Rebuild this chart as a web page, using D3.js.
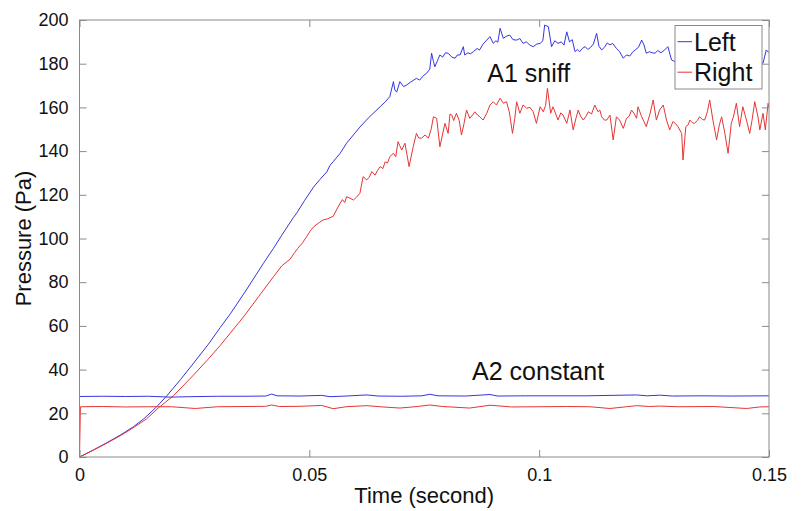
<!DOCTYPE html>
<html>
<head>
<meta charset="utf-8">
<script src="https://cdn.jsdelivr.net/npm/d3@7"></script>
<style>
  html, body { margin: 0; padding: 0; background: #fff; }
  svg { display: block; }
  text { font-family: "Liberation Sans", Arial, Helvetica, sans-serif; fill: #111; }
</style>
</head>
<body>
<svg id="chart" width="802" height="511"></svg>
<script>
// Pressure traces, [time (s), pressure (Pa)]
const leftSniff = [
  [0,0],[0.003,3.2],[0.006,6.6],[0.009,10.2],[0.0117,13.8],[0.014,17.5],[0.0168,23],[0.019,28],
  [0.022,35.5],[0.0248,42.9],[0.028,51.5],[0.0306,59.2],[0.0328,65.5],[0.036,75.5],[0.04,88.6],
  [0.0422,95.5],[0.044,101.5],[0.0465,109.5],[0.0473,111.8],[0.049,117.5],[0.0509,123.5],
  [0.0523,127],[0.0538,130.5],[0.0545,133.5],[0.0552,135.2],[0.0567,139],[0.0581,143.6],
  [0.061,151],[0.063,155.5],[0.0654,160.3],[0.0665,162.5],[0.0675,164.9],[0.0683,171.8],
  [0.0686,168],[0.069,167],[0.0697,171.8],[0.0705,169.5],[0.0712,170.3],[0.072,171.5],
  [0.0733,173.3],[0.074,172.5],[0.0748,174.5],[0.0755,175.6],[0.0762,177.5],[0.0766,184.8],
  [0.077,181],[0.0773,178.6],[0.0778,181],[0.0784,184],[0.079,183],[0.0796,185],[0.0802,184.8],
  [0.081,183],[0.0817,182.5],[0.0822,184],[0.0828,184],[0.0835,187.8],[0.0838,184],[0.0845,185],
  [0.085,184.5],[0.0857,185.5],[0.0865,187],[0.087,186.2],[0.0878,189],[0.0886,190.8],
  [0.0893,192.4],[0.09,189.3],[0.0906,190.5],[0.091,189.8],[0.0915,196.2],[0.0922,191.6],
  [0.0928,192.5],[0.0936,193.1],[0.0943,191],[0.0951,190.8],[0.0958,191.5],[0.0965,189.3],
  [0.0972,190],[0.098,188.5],[0.0987,187.8],[0.0995,189],[0.1002,189.3],[0.1008,190.5],
  [0.1012,197.7],[0.102,196.9],[0.1027,187.8],[0.1034,190.5],[0.1041,189.3],[0.1048,190],
  [0.1054,188.5],[0.106,194.6],[0.1066,190],[0.1072,191],[0.1078,185.5],[0.1083,186.5],
  [0.1088,185.5],[0.1094,187],[0.11,187.8],[0.1106,186.5],[0.1112,187.5],[0.1118,189],
  [0.1125,193.9],[0.113,188],[0.1136,186.3],[0.1142,187.5],[0.1148,189.5],[0.1154,188.6],
  [0.116,189.3],[0.1168,187],[0.1175,185.5],[0.1183,182.5],[0.119,184],[0.1197,183.5],
  [0.1204,185.5],[0.121,186.5],[0.1216,187.5],[0.1223,190.8],[0.1228,188.6],[0.1233,184.8],
  [0.124,185.5],[0.1246,185],[0.1252,184.8],[0.1258,186],[0.1265,185],[0.1273,186.3],
  [0.128,187.8],[0.1288,181.7],[0.1295,181],[0.131,183],[0.133,186],[0.135,184.5],[0.137,187],
  [0.139,185],[0.141,188],[0.143,184],[0.145,186],[0.147,182.5],[0.1483,180.5],[0.1487,180.2],
  [0.1494,186.3],[0.15,185]
];

const rightSniff = [
  [0,0],[0.003,3.1],[0.006,6.4],[0.009,9.9],[0.0117,13.4],[0.0145,17.3],[0.0172,22.5],[0.0204,28],
  [0.0225,32.5],[0.0248,37.5],[0.028,44.8],[0.0306,51],[0.0335,58.5],[0.036,65],[0.039,73.5],
  [0.0422,82.5],[0.044,87.5],[0.0458,90.5],[0.0468,93.5],[0.0475,95.5],[0.0485,98],[0.0494,100.8],
  [0.0502,103.5],[0.051,105.5],[0.0523,107.5],[0.053,108.5],[0.054,109],[0.0552,110.2],
  [0.056,113.5],[0.0567,116.1],[0.0572,117.8],[0.0577,116.5],[0.0581,119.1],[0.0588,118.5],
  [0.0596,117.6],[0.0603,119],[0.061,120.7],[0.0617,128.3],[0.0625,126.8],[0.063,128],
  [0.0636,130.6],[0.0643,129],[0.0648,131],[0.0654,132.9],[0.066,132],[0.0665,135.1],
  [0.067,134.5],[0.0675,137.4],[0.0683,139],[0.0688,137.4],[0.0693,144.3],[0.0701,140.5],
  [0.0708,143.6],[0.0717,132.9],[0.0726,142],[0.0733,148.1],[0.0738,146],[0.0744,145.9],
  [0.0752,147.4],[0.0759,145.9],[0.0765,150],[0.077,155.7],[0.0777,155],[0.0784,142],
  [0.0795,152.7],[0.0802,148.1],[0.0806,157],[0.081,156.5],[0.0814,154],[0.082,157.3],
  [0.0826,154],[0.0831,147.4],[0.0836,152],[0.0842,158.8],[0.0849,155],[0.0855,156.5],
  [0.086,158],[0.0866,156.5],[0.0871,155.7],[0.0878,154.2],[0.0886,157.3],[0.0893,161.1],
  [0.09,162.6],[0.0907,161.1],[0.0915,164.2],[0.0922,161.9],[0.0929,162.6],[0.0935,158],
  [0.0942,148.1],[0.0947,155],[0.0951,162.6],[0.0958,157.3],[0.0965,161.1],[0.0973,159.6],
  [0.098,160],[0.0987,158],[0.0994,152.7],[0.1002,160.3],[0.1009,158],[0.1014,161],
  [0.1018,168.7],[0.1025,157.3],[0.103,160.3],[0.1036,157],[0.1041,154.2],[0.1047,157.5],
  [0.1052,156.5],[0.106,152.7],[0.1067,158.8],[0.1074,149.7],[0.108,155],[0.1085,158.8],
  [0.109,156],[0.1096,154.2],[0.1102,156],[0.1107,158],[0.1114,157],[0.1121,161.1],
  [0.1128,158],[0.1132,158.8],[0.1136,155.7],[0.1142,154.2],[0.1147,154.2],[0.1154,156.5],
  [0.1161,145.1],[0.1168,155.7],[0.1175,154.2],[0.1183,150.4],[0.119,155],[0.1196,156],
  [0.1201,158.8],[0.1207,157],[0.1212,155],[0.1215,160.3],[0.1223,155.7],[0.1228,153.5],
  [0.1233,151.2],[0.1241,157],[0.1248,163.4],[0.1255,154.2],[0.1262,158.8],[0.127,161.1],
  [0.1277,154.2],[0.1284,149.7],[0.1291,153.5],[0.1297,152.5],[0.1302,151.2],[0.131,148.1],
  [0.1313,135.9],[0.1319,151.2],[0.1324,152],[0.1328,154.2],[0.1333,153],[0.1338,152.7],
  [0.1344,154],[0.1349,155.7],[0.1355,154.5],[0.136,154.2],[0.1366,158],[0.1371,163.4],
  [0.1378,154.2],[0.1386,145.1],[0.1392,152],[0.1397,155.7],[0.1404,148.1],[0.1411,139],
  [0.1418,152.7],[0.1423,156],[0.1429,161.9],[0.1436,151.2],[0.1443,160.3],[0.1451,154.2],
  [0.1458,148.1],[0.1463,154],[0.1469,162.6],[0.1476,155.7],[0.148,149.7],[0.1487,157.3],
  [0.1492,149.7],[0.1498,161.9],[0.15,160]
];

const leftConstant = [
  [0,27.7],[0.005,27.8],[0.01,27.7],[0.015,27.8],[0.0197,27.4],[0.024,27.6],[0.03,27.8],
  [0.036,27.8],[0.0405,27.9],[0.0418,28.8],[0.043,28.0],[0.048,27.9],[0.0527,28.2],[0.0545,27.6],
  [0.058,27.9],[0.0625,28.4],[0.065,27.9],[0.07,27.8],[0.0745,28.0],[0.0762,28.7],[0.078,28.0],
  [0.084,27.9],[0.0893,28.6],[0.091,27.9],[0.097,28.0],[0.103,28.0],[0.11,28.0],[0.1212,28.4],
  [0.1235,28.0],[0.1262,28.3],[0.129,27.9],[0.135,28.0],[0.142,27.9],[0.15,28.0]
];

const rightConstant = [
  [0,0],[0.0002,23],[0.005,23.1],[0.01,22.9],[0.015,23.0],[0.02,23.0],[0.0252,22.2],[0.03,23.0],
  [0.036,23.1],[0.0405,23.2],[0.0418,23.8],[0.0435,23.1],[0.048,23.2],[0.0527,23.6],[0.0552,22.1],
  [0.058,23.0],[0.0625,23.5],[0.066,22.9],[0.0697,22.4],[0.0735,23.1],[0.0762,23.8],[0.079,23.1],
  [0.0849,22.4],[0.0893,23.7],[0.094,22.9],[0.1,23.0],[0.106,23.1],[0.111,23.0],[0.1154,22.2],
  [0.119,23.0],[0.1212,23.5],[0.124,23.1],[0.1262,23.3],[0.13,23.0],[0.138,23.1],[0.1451,22.2],
  [0.148,22.9],[0.15,23.0]
];

const xTicks = [0, 0.05, 0.1, 0.15];
const xTickLabels = ["0", "0.05", "0.1", "0.15"];
const yTicks = [0, 20, 40, 60, 80, 100, 120, 140, 160, 180, 200];
const legendLabels = ["Left", "Right"];
// Text notes placed in data units (left edge of text, baseline)
const annotations = [
  { text: "A1 sniff", t: 0.0887, p: 171.8 },
  { text: "A2 constant", t: 0.0854, p: 35.3 }
];

const BLUE = "#3535e0";
const RED = "#e53535";
const AXIS = "#8a8a8a";

const margin = { left: 79.5, top: 20, right: 33, bottom: 54 };
const W = 802, H = 511;
const iw = W - margin.left - margin.right;
const ih = H - margin.top - margin.bottom;

const svg = d3.select("#chart");
const g = svg.append("g").attr("transform", `translate(${margin.left},${margin.top})`);

const x = d3.scaleLinear().domain([0, 0.15]).range([0, iw]);
const y = d3.scaleLinear().domain([0, 200]).range([ih, 0]);

svg.append("defs").append("clipPath").attr("id", "plotClip")
  .append("rect").attr("x", 0).attr("y", 0).attr("width", iw).attr("height", ih);

const line = d3.line().x(d => x(d[0])).y(d => y(d[1]));

const traces = g.append("g").attr("clip-path", "url(#plotClip)");
[[leftSniff, BLUE], [rightSniff, RED], [leftConstant, BLUE], [rightConstant, RED]].forEach(([data, col]) => {
  traces.append("path")
    .datum(data)
    .attr("d", line)
    .attr("fill", "none")
    .attr("stroke", col)
    .attr("stroke-width", 1)
    .attr("stroke-linejoin", "round");
});

// Axes with inward ticks on all four sides
const tickFmt = d => xTickLabels[xTicks.indexOf(d)];
const styleAxis = sel => {
  sel.select(".domain").remove();
  sel.selectAll(".tick line").attr("stroke", AXIS);
  sel.selectAll(".tick text").style("font-size", "18px").attr("fill", "#111");
};

g.append("g").attr("transform", `translate(0,${ih})`)
  .call(d3.axisBottom(x).tickValues(xTicks).tickFormat(tickFmt).tickSize(-7).tickPadding(11))
  .call(styleAxis);
g.append("g")
  .call(d3.axisTop(x).tickValues(xTicks).tickFormat("").tickSize(-7))
  .call(styleAxis);
g.append("g")
  .call(d3.axisLeft(y).tickValues(yTicks).tickFormat(d3.format("d")).tickSize(-7).tickPadding(11))
  .call(styleAxis);
g.append("g").attr("transform", `translate(${iw},0)`)
  .call(d3.axisRight(y).tickValues(yTicks).tickFormat("").tickSize(-7))
  .call(styleAxis);

g.append("rect")
  .attr("x", 0).attr("y", 0).attr("width", iw).attr("height", ih)
  .attr("fill", "none").attr("stroke", AXIS).attr("stroke-width", 1);

// Annotations
g.selectAll("text.note")
  .data(annotations)
  .join("text")
  .attr("class", "note")
  .attr("x", d => x(d.t))
  .attr("y", d => y(d.p))
  .attr("text-anchor", "start")
  .style("font-size", "25px")
  .text(d => d.text);

// Axis titles
svg.append("text")
  .attr("x", margin.left + iw / 2)
  .attr("y", 503)
  .attr("text-anchor", "middle")
  .style("font-size", "22px")
  .text("Time (second)");

svg.append("text")
  .attr("transform", `translate(31,${margin.top + ih / 2}) rotate(-90)`)
  .attr("text-anchor", "middle")
  .style("font-size", "22px")
  .text("Pressure (Pa)");

// Legend
const lg = svg.append("g").attr("transform", "translate(675,25.5)");
lg.append("rect")
  .attr("width", 87).attr("height", 63.5)
  .attr("fill", "#fff").attr("stroke", AXIS).attr("stroke-width", 1);
const items = lg.selectAll("g.item")
  .data(legendLabels.map((l, i) => ({ label: l, color: i === 0 ? BLUE : RED })))
  .join("g")
  .attr("class", "item")
  .attr("transform", (d, i) => `translate(0,${16.2 + i * 30.5})`);
items.append("line")
  .attr("x1", 2.5).attr("x2", 17).attr("y1", 0).attr("y2", 0)
  .attr("stroke", d => d.color).attr("stroke-width", 1);
items.append("text")
  .attr("x", 19).attr("y", 9.2)
  .style("font-size", "25px")
  .text(d => d.label);
</script>
</body>
</html>
